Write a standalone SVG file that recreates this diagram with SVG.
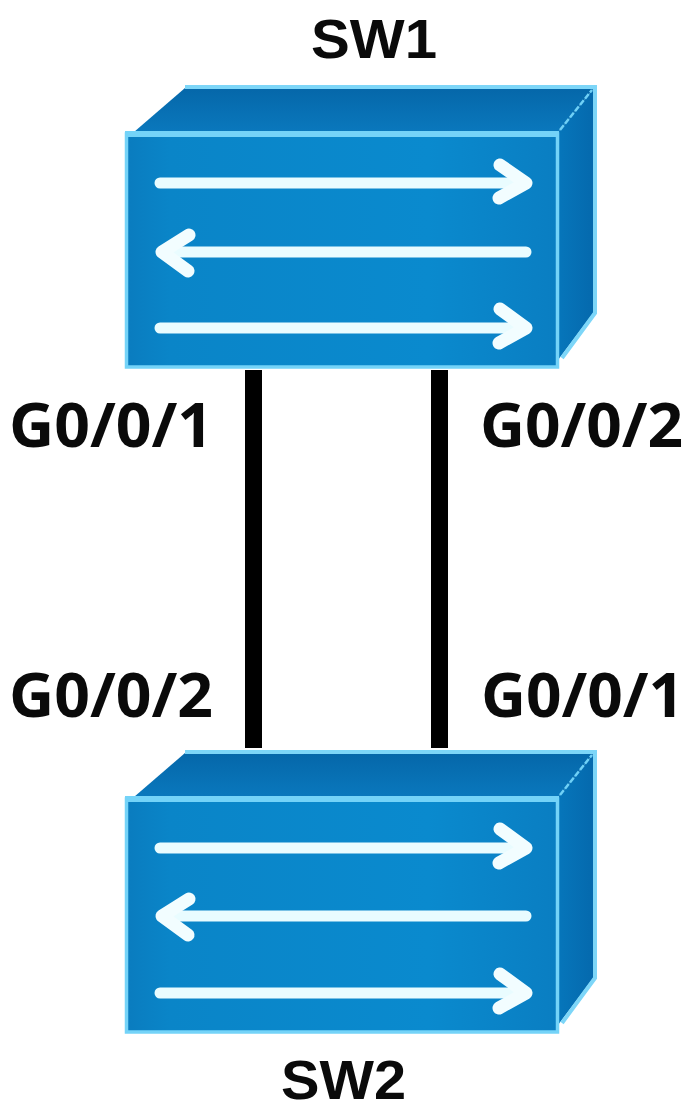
<svg xmlns="http://www.w3.org/2000/svg" width="687" height="1111" viewBox="0 0 687 1111">
<style>
.lbl{font-family:"Open Sans","Noto Sans","Liberation Sans",sans-serif;font-weight:700;font-size:60px;fill:#0a0a0a}
.name{font-family:"Liberation Sans",Arial,sans-serif;font-weight:700;font-size:56px;fill:#0a0a0a}
.edge{fill:none;stroke:#7dd6f8;stroke-width:4}
.arr{fill:none;stroke:#e9fcff;stroke-width:11;stroke-linecap:round;stroke-linejoin:round}
.head{fill:none;stroke:#f2fdff;stroke-width:13;stroke-linecap:round;stroke-linejoin:round}
.wire{fill:none;stroke:#000;stroke-width:17}
</style>
<defs>
<linearGradient id="front" x1="0" y1="0" x2="1" y2="0">
<stop offset="0" stop-color="#0a7cbf"/><stop offset="0.1" stop-color="#0a85c8"/><stop offset="0.7" stop-color="#0a8ace"/><stop offset="1" stop-color="#0a7ec2"/>
</linearGradient>
<linearGradient id="top" x1="0" y1="0" x2="0" y2="1">
<stop offset="0" stop-color="#0567a9"/><stop offset="1" stop-color="#0a78bd"/>
</linearGradient>
<linearGradient id="side" x1="0" y1="0" x2="1" y2="0">
<stop offset="0" stop-color="#0676bb"/><stop offset="1" stop-color="#0569ad"/>
</linearGradient>
<g id="box">
<path d="M134 132 L185 88 H594 L558 132 Z" fill="url(#top)"/>
<path d="M558 132 L594 88 V312 L558 360 Z" fill="url(#side)"/>
<path class="edge" d="M185 87 H595 V313 L562 358"/>
<path d="M560 130 L592 90" fill="none" stroke="#6fd0f6" stroke-width="2.500" stroke-dasharray="6 2"/>
<rect x="126.500" y="134" width="431" height="233" fill="url(#front)" stroke="#74d3f8" stroke-width="3.500"/>
<rect x="125" y="131" width="434" height="6" fill="#74d3f8"/>
</g>
</defs>
<rect width="687" height="1111" fill="#fff"/>
<g id="connectors">
<path class="wire" d="M253.500 370 V748"/>
<path class="wire" d="M439.500 370 V748"/>
</g>
<g id="sw1">
<use href="#box"/>
<path class="arr" d="M160 183 H520"/>
<path class="head" d="M500 165 L526 183 L499 198"/>
<path class="arr" d="M526 252 H170"/>
<path class="head" d="M189 235 L162 252 L188 271"/>
<path class="arr" d="M160 328 H520"/>
<path class="head" d="M500 309 L526 328 L499 343"/>
<text class="name" x="311" y="58" textLength="126" lengthAdjust="spacingAndGlyphs">SW1</text>
</g>
<g id="sw2">
<use href="#box" y="665"/>
<path class="arr" d="M160 848 H520"/>
<path class="head" d="M500 829 L526 848 L499 863"/>
<path class="arr" d="M526 916 H170"/>
<path class="head" d="M189 899 L162 916 L188 935"/>
<path class="arr" d="M160 993 H520"/>
<path class="head" d="M500 974 L526 993 L499 1008"/>
<text class="name" x="281" y="1099" textLength="125" lengthAdjust="spacingAndGlyphs">SW2</text>
</g>
<g id="labels">
<text class="lbl" x="9" y="447" textLength="204" lengthAdjust="spacingAndGlyphs">G0/0/1</text>
<text class="lbl" x="480" y="447" textLength="203" lengthAdjust="spacingAndGlyphs">G0/0/2</text>
<text class="lbl" x="9" y="717" textLength="204" lengthAdjust="spacingAndGlyphs">G0/0/2</text>
<text class="lbl" x="481" y="717" textLength="203" lengthAdjust="spacingAndGlyphs">G0/0/1</text>
</g>
</svg>
